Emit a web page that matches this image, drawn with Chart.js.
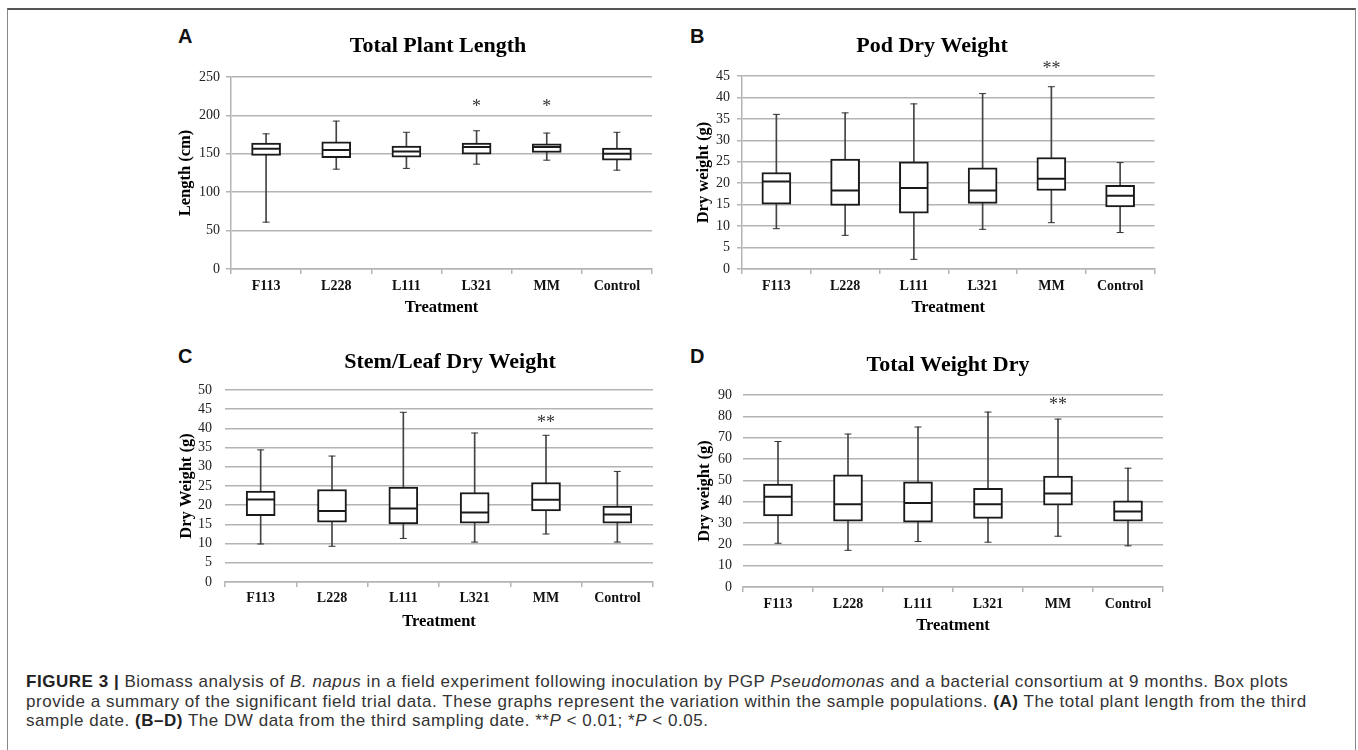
<!DOCTYPE html>
<html>
<head>
<meta charset="utf-8">
<script src="https://cdn.jsdelivr.net/npm/chart.js@4.4.1/dist/chart.umd.min.js"></script>
<style>
  body { margin: 0; width: 1358px; height: 750px; background: #fff; position: relative; overflow: hidden; }
  .frame { position: absolute; left: 7px; top: 8px; width: 1347px; height: 800px;
           border-top: 2px solid #555; border-left: 1.5px solid #888; border-right: 1.5px solid #888; }
  canvas { position: absolute; }
  .letter { position: absolute; font: bold 20px "Liberation Sans", Arial, sans-serif; color: #111; line-height: 20px; }
  .caption { position: absolute; left: 26px; top: 672px; font: 17px "Liberation Sans", Arial, sans-serif;
             letter-spacing: 0.53px; color: #333; line-height: 19.5px; white-space: nowrap; }
  .caption b { color: #222; }
</style>
</head>
<body>
<div class="frame"></div>

<div class="letter" style="left:178px; top:26px">A</div>
<div class="letter" style="left:690px; top:26px">B</div>
<div class="letter" style="left:178px; top:346px">C</div>
<div class="letter" style="left:690px; top:346px">D</div>

<canvas id="chartA" width="524" height="298" style="left:176px; top:20px"></canvas>
<canvas id="chartB" width="476" height="298" style="left:694px; top:20px"></canvas>
<canvas id="chartC" width="546" height="302" style="left:177px; top:330px"></canvas>
<canvas id="chartD" width="506" height="306" style="left:695px; top:330px"></canvas>

<div class="caption"><b>FIGURE 3 |</b> Biomass analysis of <i>B. napus</i> in a field experiment following inoculation by PGP <i>Pseudomonas</i> and a bacterial consortium at 9 months. Box plots<br>provide a summary of the significant field trial data. These graphs represent the variation within the sample populations. <b>(A)</b> The total plant length from the third<br>sample date. <b>(B–D)</b> The DW data from the third sampling date. **<i>P</i> &lt; 0.01; *<i>P</i> &lt; 0.05.</div>

<script>
const treatments = ["F113", "L228", "L111", "L321", "MM", "Control"];

// A - total plant length (cm)
const lengthMin = [61, 130, 131, 136.5, 141.7, 128.7];
const lengthQ1 = [148, 145, 145.6, 149.6, 151.7, 141.7];
const lengthMed = [156.5, 155, 153, 159, 158.7, 150];
const lengthQ3 = [164, 165.6, 160, 164, 163, 157.4];
const lengthMax = [176, 192.6, 178, 180, 177, 178];
const lengthSig = ["", "", "", "*", "*", ""];

// B - pod dry weight (g)
const podMin = [9.4, 7.85, 2.25, 9.25, 10.8, 8.5];
const podQ1 = [15.1, 14.8, 13.0, 15.3, 18.3, 14.5];
const podMed = [20.4, 18.3, 18.9, 18.3, 21.05, 17.1];
const podQ3 = [22.5, 25.6, 25.0, 23.6, 26.0, 19.5];
const podMax = [36.05, 36.4, 38.5, 40.9, 42.5, 24.8];
const podSig = ["", "", "", "", "**", ""];

// C - stem/leaf dry weight (g)
const stemMin = [9.9, 9.3, 11.35, 10.4, 12.5, 10.4];
const stemQ1 = [17.3, 15.6, 15.1, 15.3, 18.5, 15.3];
const stemMed = [21.5, 18.5, 19.15, 18.1, 21.4, 17.6];
const stemQ3 = [23.7, 24.1, 24.7, 23.3, 25.9, 19.8];
const stemMax = [34.4, 32.8, 44.2, 38.8, 38.2, 28.8];
const stemSig = ["", "", "", "", "**", ""];

// D - total dry weight (g)
const totalMin = [20.5, 17.2, 21.3, 21, 23.8, 19.3];
const totalQ1 = [33.3, 30.8, 30.4, 32.2, 38.3, 30.8];
const totalMed = [42.3, 38.8, 39.4, 38.8, 43.8, 35.4];
const totalQ3 = [48.2, 52.6, 49.3, 46.3, 52, 40.4];
const totalMax = [68.2, 71.7, 75, 82, 78.7, 55.7];
const totalSig = ["", "", "", "", "**", ""];

const serif = '"Liberation Serif", "Times New Roman", serif';
const grey = '#b4b4b4';
const ink = '#1a1a1a';

// significance stars above the boxes
const starPlugin = {
  id: 'stars',
  afterDatasetsDraw(chart, args, opts) {
    const { ctx, scales: { x, y } } = chart;
    ctx.save();
    ctx.font = '18px ' + serif;
    ctx.fillStyle = '#333';
    ctx.textAlign = 'center';
    ctx.textBaseline = 'middle';
    opts.sig.forEach((s, i) => {
      if (s) ctx.fillText(s, x.getPixelForValue(i), y.getPixelForValue(opts.at) + 4);
    });
    ctx.restore();
  }
};

function boxChart(id, s) {
  return new Chart(document.getElementById(id), {
    type: 'bar',
    data: {
      labels: treatments,
      datasets: [
        // median
        { type: 'line', data: s.med, showLine: false, pointStyle: 'line', pointRadius: 13.5,
          pointBorderWidth: 2, pointBorderColor: ink, order: 1 },
        // whisker caps
        { type: 'line', data: s.max, showLine: false, pointStyle: 'line', pointRadius: 3.5,
          pointBorderWidth: 1, pointBorderColor: '#333', order: 2 },
        { type: 'line', data: s.min, showLine: false, pointStyle: 'line', pointRadius: 3.5,
          pointBorderWidth: 1, pointBorderColor: '#333', order: 2 },
        // box q1..q3
        { data: treatments.map((t, i) => [s.q1[i], s.q3[i]]), backgroundColor: '#fff',
          borderColor: ink, borderWidth: 2, borderSkipped: false, barThickness: 29,
          grouped: false, order: 3 },
        // whisker min..max
        { data: treatments.map((t, i) => [s.min[i], s.max[i]]), backgroundColor: '#444',
          borderWidth: 0, barThickness: 1, grouped: false, order: 4 }
      ]
    },
    options: {
      responsive: false,
      animation: false,
      events: [],
      layout: { padding: 0 },
      plugins: {
        legend: { display: false },
        tooltip: { enabled: false },
        title: {
          display: true, text: s.title, color: '#000',
          font: { family: serif, size: 22, weight: 'bold' },
          padding: { top: s.tTop, bottom: s.tBottom }
        },
        stars: { sig: s.sig, at: s.starAt }
      },
      scales: {
        x: {
          grid: { display: true, drawOnChartArea: false, drawTicks: true, tickLength: 5,
                  offset: true, color: grey, lineWidth: 1.5 },
          border: { display: true, color: grey, width: 1.5 },
          ticks: { font: { family: serif, size: 14, weight: 'bold' }, color: '#111', padding: s.xPad },
          title: { display: true, text: 'Treatment', color: '#000',
                   font: { family: serif, size: 16.5, weight: 'bold' }, padding: 0 },
          afterFit(sc) { sc.height = s.hx; }
        },
        y: {
          min: 0, max: s.yMax,
          ticks: { stepSize: s.yStep, autoSkip: false, font: { family: serif, size: 14 },
                   color: '#222', padding: s.yPad },
          grid: { color: grey, lineWidth: 1.5, drawTicks: s.yTicks, tickLength: 5 },
          border: { display: s.yBorder, color: grey, width: 1.5 },
          title: { display: true, text: s.yTitle, color: '#000',
                   font: { family: serif, size: 16.5, weight: 'bold' }, padding: 0 },
          afterFit(sc) { sc.width = s.lw; }
        },
        // empty right box so the title centres like the original figure
        yR: {
          position: 'right', display: true,
          grid: { display: false }, border: { display: false }, ticks: { display: false },
          afterFit(sc) { sc.width = s.rw; }
        }
      }
    },
    plugins: [starPlugin]
  });
}

boxChart('chartA', {
  title: 'Total Plant Length', yTitle: 'Length (cm)', yMax: 250, yStep: 50, starAt: 216,
  min: lengthMin, q1: lengthQ1, med: lengthMed, q3: lengthQ3, max: lengthMax, sig: lengthSig,
  lw: 55, rw: 48, tTop: 12.8, tBottom: 17.8, hx: 49, xPad: 3.6, yPad: 6, yTicks: true, yBorder: true
});
boxChart('chartB', {
  title: 'Pod Dry Weight', yTitle: 'Dry weight (g)', yMax: 45, yStep: 5, starAt: 47.6,
  min: podMin, q1: podQ1, med: podMed, q3: podQ3, max: podMax, sig: podSig,
  lw: 48, rw: 9, tTop: 12.8, tBottom: 16.8, hx: 49, xPad: 3.6, yPad: 7, yTicks: true, yBorder: true
});
boxChart('chartC', {
  title: 'Stem/Leaf Dry Weight', yTitle: 'Dry Weight (g)', yMax: 50, yStep: 5, starAt: 42.5,
  min: stemMin, q1: stemQ1, med: stemMed, q3: stemQ3, max: stemMax, sig: stemSig,
  lw: 48, rw: 70, tTop: 18.8, tBottom: 14.8, hx: 50, xPad: 2.6, yPad: 13, yTicks: false, yBorder: false
});
boxChart('chartD', {
  title: 'Total Weight Dry', yTitle: 'Dry weight (g)', yMax: 90, yStep: 10, starAt: 87,
  min: totalMin, q1: totalQ1, med: totalMed, q3: totalQ3, max: totalMax, sig: totalSig,
  lw: 48, rw: 38, tTop: 21.8, tBottom: 16.8, hx: 49, xPad: 3.6, yPad: 11, yTicks: false, yBorder: false
});
</script>
</body>
</html>
